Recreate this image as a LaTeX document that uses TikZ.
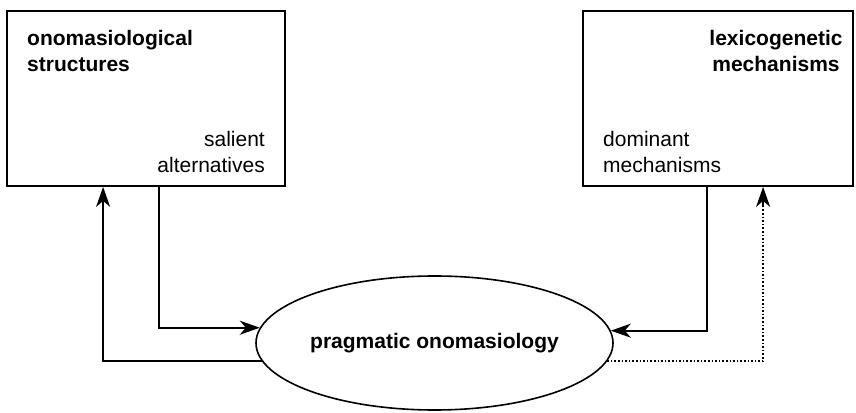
\documentclass[tikz,border=0pt]{standalone}
\usepackage{fontspec}
\setmainfont{Liberation Sans}
\usetikzlibrary{shapes.geometric,arrows.meta}
\begin{document}
\begin{tikzpicture}[x=1pt,y=1pt,
  box/.style={draw,line width=1.8pt,rectangle,inner sep=0pt,minimum height=175pt},
  lab/.style={inner sep=0pt,font=\fontsize{21}{26.5}\selectfont},
  title/.style={lab,font=\fontsize{21}{26.5}\selectfont\bfseries},
  arr/.style={line width=1.8pt,-{Stealth[length=20pt,width=14pt,inset=6pt]}},
  dots/.style={line width=1.6pt,dotted}]
\useasboundingbox (0,0) rectangle (856,412);
\node[box,minimum width=278pt] (lbox) at (146,313.5) {};
\node[box,minimum width=270pt] (rbox) at (718,313.5) {};
\node[draw,ellipse,line width=1.6pt,minimum width=357pt,minimum height=134pt,inner sep=0pt] (ell) at (434.5,69) {};
\node[title,anchor=base west,align=left] (lt) at (27,340) {onomasiological\\structures};
\node[lab,anchor=base east,align=right] (ls) at (265,239) {salient\\alternatives};
\node[title,anchor=base,align=center] (rt) at (776,340) {lexicogenetic\\mechanisms};
\node[lab,anchor=base west,align=left] (rs) at (603,239) {dominant\\mechanisms};
\node[lab,font=\fontsize{21}{26.5}\selectfont\bfseries] (et) at (ell.center) {pragmatic onomasiology};
\draw[arr] (ell.186.7) -| ([xshift=97pt]lbox.south west);
\draw[arr] ([xshift=153pt]lbox.south west) |- (ell.175.75);
\draw[arr] ([xshift=125pt]rbox.south west) |- (ell.4.25);
\draw[dots] (ell.-6.7) -| ([xshift=181pt,yshift=-18pt]rbox.south west);
\draw[arr] ([xshift=181pt,yshift=-19pt]rbox.south west) -- ([xshift=181pt]rbox.south west);
\end{tikzpicture}
\end{document}
